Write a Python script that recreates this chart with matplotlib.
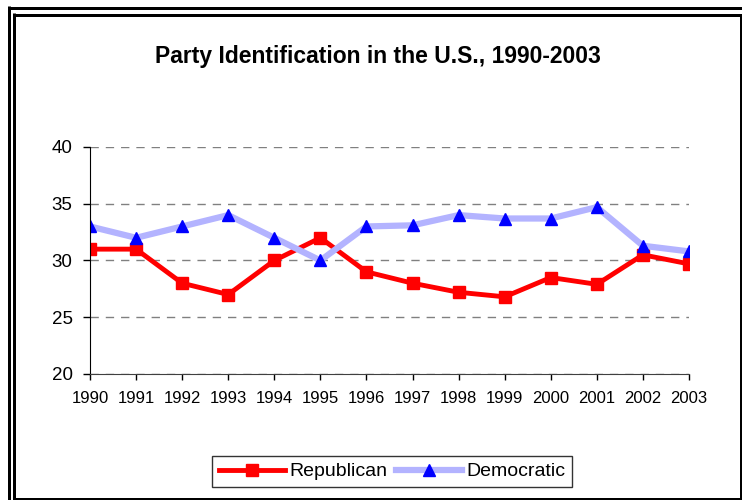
import matplotlib.pyplot as plt
from matplotlib.lines import Line2D

plt.rcParams['font.family'] = ['Liberation Sans', 'DejaVu Sans']

# Party identification shares (percent)
years = [1990, 1991, 1992, 1993, 1994, 1995, 1996, 1997, 1998, 1999, 2000, 2001, 2002, 2003]
republican = [31, 31, 28, 27, 30, 32, 29, 28, 27.2, 26.8, 28.5, 27.9, 30.5, 29.7]
democratic = [33, 32, 33, 34, 32, 30, 33, 33.1, 34, 33.7, 33.7, 34.7, 31.3, 30.8]
yticks = [20, 25, 30, 35, 40]

W, H = 742, 500
fig = plt.figure(figsize=(W / 100, H / 100), dpi=100)
ax = fig.add_axes([90 / W, 1 - 374 / H, (689 - 90) / W, (374 - 147) / H])

ax.plot(years, republican, color='#ff0000', lw=3.5, marker='s', markersize=8,
        markerfacecolor='#ff0000', markeredgecolor='#ff0000', label='Republican')
ax.plot(years, democratic, color='#b3b3ff', lw=4.5, marker='^', markersize=9,
        markerfacecolor='#0000ff', markeredgecolor='#0000ff', label='Democratic')

ax.set_xlim(1990, 2003)
ax.set_ylim(20, 40)
ax.set_yticks(yticks)
ax.set_xticks(years)
ax.set_xticklabels([str(y) for y in years], fontsize=12)
ax.set_yticklabels([str(v) for v in yticks], fontsize=13.5)
ax.tick_params(axis='y', direction='out', length=5, width=1, pad=7.5)
ax.tick_params(axis='x', direction='out', length=4, width=1, pad=8)

# dashed gridlines
ax.yaxis.grid(True, color='#808080', linestyle=(0, (6, 5)), lw=1)
ax.set_axisbelow(True)
for s in ['top', 'right']:
    ax.spines[s].set_visible(False)
ax.spines['left'].set_color('black')
ax.spines['bottom'].set_color('#404040')

fig.text(378 / W, 1 - 57 / H, 'Party Identification in the U.S., 1990-2003',
         ha='center', va='center', fontsize=16.5, fontweight='bold')

leg = fig.legend(loc='center', bbox_to_anchor=(392 / W, 1 - 471.5 / H), ncol=2,
                 fontsize=14, frameon=True, fancybox=False, edgecolor='black',
                 handlelength=3.4, handletextpad=0.2, columnspacing=0.45,
                 borderpad=0.35, borderaxespad=0)
leg.get_frame().set_linewidth(1)


# double border around the chart
def border(x0, y0, x1, y1, px):
    fig.add_artist(Line2D([x0 / W, x1 / W], [1 - y0 / H, 1 - y1 / H],
                          transform=fig.transFigure, color='black',
                          lw=px * 0.72, solid_capstyle='butt'))


border(8.5, 7.5, W, 7.5, 3)
border(8.5, 6, 8.5, H, 3)
border(13.5, 14.5, W, 14.5, 3)
border(13.5, 13, 13.5, H, 3)
border(13, 498.5, 741, 498.5, 2)
border(740.5, 14, 740.5, 499.5, 2)

fig.savefig('out.png', dpi=100)
